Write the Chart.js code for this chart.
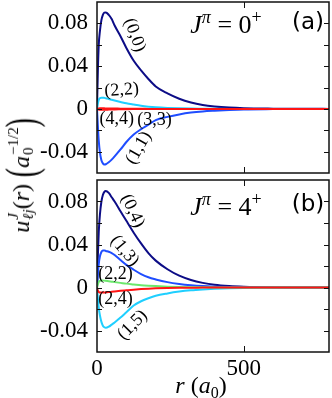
<!DOCTYPE html>
<html>
<head>
<meta charset="utf-8">
<script src="https://cdn.jsdelivr.net/npm/chart.js@4"></script>
<style>
  html, body { margin: 0; padding: 0; background: #fff; }
  #wrap { position: relative; width: 332px; height: 398px; overflow: hidden; }
  #wrap canvas { position: absolute; left: 0; top: 0; }
  .txt { position: absolute; transform: translate(-50%, -50%); white-space: nowrap; font-family: 'Liberation Serif', serif; font-size: 22px; line-height: 1; color: #000; }
  .jp { font-size: 26px; }
  .sans { font-family: 'DejaVu Sans', sans-serif; font-size: 23px; }
  .up { font-size: 18px; position: relative; top: -10px; }
  .dn { font-size: 16px; position: relative; top: 5px; }
  .st { display: inline-flex; flex-direction: column; font-size: 15px; line-height: 15px; margin-left: 1px; }
  .bp { display: inline-block; font-size: 30px; line-height: 30px; transform: scale(0.9, 1.45); }
  #ylab { display: flex; align-items: center; transform: translate(-50%, -50%) rotate(-90deg); font-size: 24px; }
</style>
</head>
<body>
<div id="wrap">
  <canvas id="chartA" width="332" height="398"></canvas>
  <canvas id="chartB" width="332" height="398"></canvas>
  <div class="txt jp" style="left:226px; top:25px;"><i>J</i><span class="up"><i>π</i></span> = 0<span class="up">+</span></div>
  <div class="txt sans" style="left:308px; top:21px;">(a)</div>
  <div class="txt jp" style="left:226px; top:207px;"><i>J</i><span class="up"><i>π</i></span> = 4<span class="up">+</span></div>
  <div class="txt sans" style="left:308px; top:203px;">(b)</div>
  <div class="txt" id="ylab" style="left:21px; top:175px;"><i>u</i><span class="st"><i>J</i><i>ℓj</i></span>(<i>r</i>)&nbsp;<span class="bp">(</span><i>a</i><span class="st"><span>−1/2</span><span>0</span></span><span class="bp">)</span></div>
  <div class="txt" style="left:201px; top:385px; font-size:24px;"><i>r</i>&nbsp;(<i>a</i><span class="dn">0</span>)</div>
</div>
<script>
// radial grid (a0) shared by all curves
const rGrid = [0, 3, 6, 10, 15, 20, 25, 30, 40, 50, 60, 80, 100, 125, 150, 175, 200, 240, 280, 320, 360, 400, 450, 500, 600, 700, 790];

// panel (a), J = 0+
const a00 = [0, 0.036, 0.060, 0.073, 0.083, 0.088, 0.090, 0.0902, 0.088, 0.084, 0.078, 0.068, 0.057, 0.045, 0.036, 0.028, 0.021, 0.0145, 0.0095, 0.006, 0.0037, 0.0023, 0.0012, 0.0006, 0.0002, 0.00005, 0];
const a22 = [0, 0.005, 0.0085, 0.0100, 0.0105, 0.0105, 0.0103, 0.0100, 0.0092, 0.0085, 0.0078, 0.0065, 0.0052, 0.0040, 0.0029, 0.0021, 0.0015, 0.0009, 0.0005, 0.0003, 0.0002, 0.0001, 0, 0, 0, 0, 0];
const a11 = [0, -0.016, -0.030, -0.041, -0.048, -0.051, -0.052, -0.0518, -0.050, -0.0475, -0.0445, -0.038, -0.031, -0.024, -0.019, -0.0148, -0.0105, -0.0075, -0.0052, -0.0035, -0.0024, -0.0017, -0.001, -0.0005, -0.0002, -0.00005, 0];
const a33 = [0, -0.0003, -0.0006, -0.0008, -0.0009, -0.0009, -0.0009, -0.0008, -0.0007, -0.0006, -0.0005, -0.0004, -0.0003, -0.0002, -0.0001, -0.0001, 0, 0, 0, 0, 0, 0, 0, 0, 0, 0, 0];
const a44 = [0, 0.0002, 0.0004, 0.0005, 0.0005, 0.0005, 0.0005, 0.0004, 0.0004, 0.0003, 0.0003, 0.0002, 0.0002, 0.0001, 0.0001, 0, 0, 0, 0, 0, 0, 0, 0, 0, 0, 0, 0];

// panel (b), J = 4+
const b04 = [0, 0.030, 0.052, 0.068, 0.080, 0.086, 0.089, 0.0898, 0.088, 0.084, 0.080, 0.071, 0.062, 0.051, 0.041, 0.032, 0.025, 0.017, 0.011, 0.007, 0.0043, 0.0025, 0.0013, 0.0007, 0.0002, 0.00005, 0];
const b13 = [0, 0.012, 0.022, 0.029, 0.033, 0.0345, 0.0345, 0.034, 0.0332, 0.032, 0.0302, 0.0255, 0.021, 0.0165, 0.0125, 0.0095, 0.0075, 0.005, 0.0033, 0.0021, 0.0013, 0.0008, 0.0004, 0.0002, 0.0001, 0, 0];
const b22 = [0, 0.003, 0.0052, 0.0062, 0.0065, 0.0065, 0.0064, 0.0062, 0.0058, 0.0054, 0.005, 0.0043, 0.0036, 0.0029, 0.0022, 0.0017, 0.0013, 0.0008, 0.0005, 0.0003, 0.0002, 0.0001, 0, 0, 0, 0, 0];
const b24 = [0, -0.003, -0.0042, -0.0046, -0.0047, -0.0047, -0.0046, -0.0045, -0.0043, -0.004, -0.0037, -0.0031, -0.0026, -0.002, -0.0015, -0.0011, -0.0008, -0.0005, -0.0003, -0.0002, -0.0001, 0, 0, 0, 0, 0, 0];
const b15 = [0, -0.010, -0.019, -0.026, -0.032, -0.0355, -0.037, -0.0375, -0.0365, -0.0345, -0.0325, -0.028, -0.023, -0.0168, -0.0128, -0.0100, -0.0077, -0.0055, -0.0038, -0.0026, -0.0018, -0.0012, -0.0007, -0.0004, -0.0001, 0, 0];

// axes
const xTicks = [0, 500];
const xFrameTicks = [500];
const yTicks = [-0.04, 0, 0.04, 0.08];
const yFrameTicks = [-0.04, -0.02, 0, 0.02, 0.04, 0.06, 0.08];

// curve labels: text, r, value, angle (deg)
const labelsA = [
    ['(0,0)', 128, 0.069, 70],
    ['(2,2)', 84, 0.0175, -4],
    ['(4,4)', 67, -0.0095, 0],
    ['(3,3)', 196, -0.0105, 0],
    ['(1,1)', 142, -0.0365, -60]
];
const labelsB = [
    ['(0,4)', 121, 0.0712, 65],
    ['(1,3)', 94, 0.034, 50],
    ['(2,2)', 63, 0.0126, 0],
    ['(2,4)', 63, -0.0107, 0],
    ['(1,5)', 121, -0.0349, -45]
];

const colors = {
    navy: '#0c0c86',
    blue: '#1f4dff',
    cyan: '#1fcfff',
    green: '#6ce86c',
    red: '#ff1414'
};

const serif = "'Liberation Serif', serif";

function pts(ys) {
    return rGrid.map((r, i) => ({ x: r, y: ys[i] }));
}

function ds(ys, color) {
    return { data: pts(ys), borderColor: color, borderWidth: 2, pointRadius: 0, fill: false, cubicInterpolationMode: 'monotone' };
}

// frame, inward ticks and curve labels
function framePlugin(labels) {
    return {
        id: 'frame',
        afterDatasetsDraw(chart) {
            const { ctx, chartArea: a, scales } = chart;
            ctx.save();
            ctx.strokeStyle = '#111';
            ctx.lineWidth = 1.5;
            ctx.strokeRect(a.left, a.top, a.right - a.left, a.bottom - a.top);
            ctx.lineWidth = 1;
            yFrameTicks.forEach(v => {
                const y = Math.round(scales.y.getPixelForValue(v)) + 0.5;
                ctx.beginPath();
                ctx.moveTo(a.left, y); ctx.lineTo(a.left + 5, y);
                ctx.moveTo(a.right, y); ctx.lineTo(a.right - 5, y);
                ctx.stroke();
            });
            xFrameTicks.forEach(v => {
                const x = Math.round(scales.x.getPixelForValue(v)) + 0.5;
                ctx.beginPath();
                ctx.moveTo(x, a.top); ctx.lineTo(x, a.top + 6);
                ctx.moveTo(x, a.bottom); ctx.lineTo(x, a.bottom - 6);
                ctx.stroke();
            });
            ctx.fillStyle = '#000';
            ctx.font = '18px ' + serif;
            ctx.textAlign = 'center';
            ctx.textBaseline = 'middle';
            labels.forEach(([t, r, v, ang]) => {
                ctx.save();
                ctx.translate(scales.x.getPixelForValue(r), scales.y.getPixelForValue(v));
                ctx.rotate(ang * Math.PI / 180);
                ctx.fillText(t, 0, 0);
                ctx.restore();
            });
            ctx.restore();
        }
    };
}

function makeChart(id, datasets, labels, top, bottom, showX) {
    return new Chart(document.getElementById(id), {
        type: 'line',
        data: { datasets: datasets },
        options: {
            responsive: false,
            devicePixelRatio: 1,
            animation: false,
            layout: { padding: { left: 0, right: 3, top: top, bottom: bottom } },
            plugins: { legend: { display: false }, tooltip: { enabled: false } },
            scales: {
                x: {
                    type: 'linear', min: 0, max: 790,
                    display: showX,
                    grid: { display: false, drawTicks: false },
                    border: { display: false },
                    afterBuildTicks: s => { s.ticks = xTicks.map(v => ({ value: v })); },
                    afterFit: s => { s.height = showX ? 46 : 0; s.paddingLeft = 0; s.paddingRight = 0; },
                    ticks: { color: '#000', padding: 3, maxRotation: 0, font: { family: serif, size: 23 } }
                },
                y: {
                    min: -0.06, max: 0.1,
                    grid: { display: false, drawTicks: false },
                    border: { display: false },
                    afterBuildTicks: s => { s.ticks = yTicks.map(v => ({ value: v })); },
                    afterFit: s => { s.width = 97; s.paddingTop = 0; s.paddingBottom = 0; },
                    ticks: {
                        color: '#000', padding: 9,
                        font: { family: serif, size: 23 },
                        callback: v => (Math.abs(v) < 1e-9 ? '0' : v.toFixed(2))
                    }
                }
            }
        },
        plugins: [framePlugin(labels)]
    });
}

makeChart('chartA', [
    ds(a44, colors.red),
    ds(a33, colors.red),
    ds(a22, colors.cyan),
    ds(a11, colors.blue),
    ds(a00, colors.navy)
], labelsA, 2, 225, false);

makeChart('chartB', [
    ds(b24, colors.red),
    ds(b22, colors.green),
    ds(b15, colors.cyan),
    ds(b13, colors.blue),
    ds(b04, colors.navy)
], labelsB, 180, 0, true);
</script>
</body>
</html>
